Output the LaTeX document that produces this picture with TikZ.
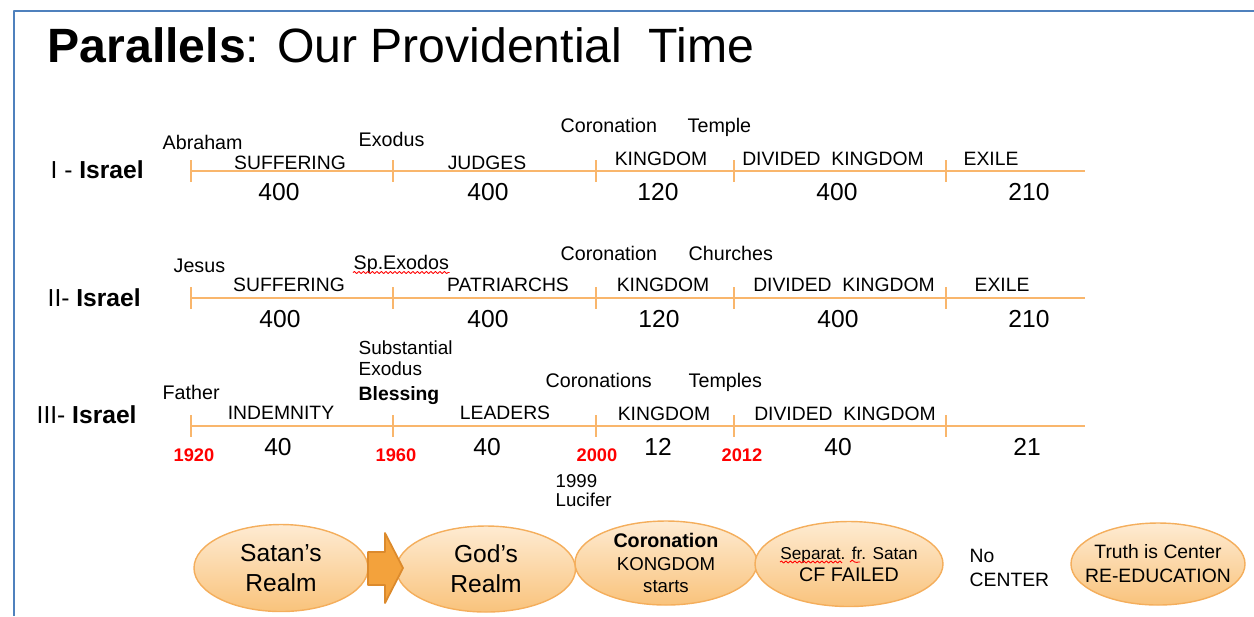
\documentclass[tikz,border=0pt]{standalone}
\usepackage{fontspec}
\setmainfont{Liberation Sans}
\usetikzlibrary{shapes.geometric,decorations.pathmorphing}
\definecolor{frameblue}{HTML}{4F81BD}
\definecolor{lineorange}{HTML}{F9B66C}
\definecolor{ovaltop}{HTML}{FEEBD2}
\definecolor{ovalbot}{HTML}{F9C37C}
\definecolor{ovaledge}{HTML}{F4AE5C}
\definecolor{arrowfill}{HTML}{F3A23C}
\definecolor{arrowedge}{HTML}{DC8A2C}
\newcommand\fs[2]{\fontsize{#1}{#2}\selectfont}
\begin{document}
\begin{tikzpicture}[x=0.1mm,y=-0.1mm,line join=round,
  lbl/.style={inner sep=0,anchor=base,font=\fs{5.5}{6.5}},
  tag/.style={inner sep=0,anchor=base west,font=\fs{5.6}{6.5}},
  num/.style={inner sep=0,anchor=base,font=\fs{7}{8}},
  yr/.style={inner sep=0,anchor=base,font=\bfseries\fs{5.2}{6},text=red},
  row/.style={inner sep=0,anchor=base west,font=\fs{7}{8}},
  oval/.style={ellipse,draw=ovaledge,line width=0.4pt,top color=ovaltop,bottom color=ovalbot,inner sep=-2.5mm,align=center},
  tl/.style={lineorange,line width=0.6pt},
  squig/.style={red,line width=0.25pt,decorate,decoration={snake,amplitude=0.1mm,segment length=0.45mm}}]
\useasboundingbox (0,0) rectangle (1254,616);
\draw[frameblue,line width=0.7pt] (14,616)--(14,11)--(1254,11);
\node[anchor=base west,inner sep=0,font=\fs{13.7}{16}] (title) at (47,62) {\textbf{Parallels}: Our Providential\ \ Time};

\foreach \y in {171,298,426}{
  \draw[tl] (191,\y)--(1085,\y);
  \foreach \x in {191,393,596,734,946} \draw[tl] (\x,\y-11)--(\x,\y+11);
}

\node[row] (isr1) at (50,178) {I - \textbf{Israel}};
\node[tag] (abraham) at (162,149) {Abraham};
\node[tag] (exodus1) at (358,146) {Exodus};
\node[tag] (coron1) at (560,132) {Coronation};
\node[tag] (temple) at (687,132) {Temple};
\node[lbl] (suff1) at (290,169) {SUFFERING};
\node[lbl] (judges) at (487,169) {JUDGES};
\node[lbl] (king1) at (661,165) {KINGDOM};
\node[lbl] (div1) at (833,165) {DIVIDED\ \ KINGDOM};
\node[lbl] (exile1) at (991,165) {EXILE};
\node[num] (n11) at (279,200) {400};
\node[num] (n12) at (488,200) {400};
\node[num] (n13) at (658,200) {120};
\node[num] (n14) at (837,200) {400};
\node[num] (n15) at (1029,200) {210};

\node[row] (isr2) at (47,306) {II- \textbf{Israel}};
\node[tag] (jesus) at (173,272) {Jesus};
\node[tag] (spex) at (353,269) {Sp.Exodos};
\node[tag] (coron2) at (560,260) {Coronation};
\node[tag] (churches) at (688,260) {Churches};
\node[lbl] (suff2) at (289,291) {SUFFERING};
\node[lbl] (patri) at (508,291) {PATRIARCHS};
\node[lbl] (king2) at (663,291) {KINGDOM};
\node[lbl] (div2) at (844,291) {DIVIDED\ \ KINGDOM};
\node[lbl] (exile2) at (1002,291) {EXILE};
\node[num] (n21) at (280,327) {400};
\node[num] (n22) at (488,327) {400};
\node[num] (n23) at (659,327) {120};
\node[num] (n24) at (838,327) {400};
\node[num] (n25) at (1029,327) {210};
\draw[squig] ([yshift=-0.35mm]spex.base west)--([yshift=-0.35mm]spex.base east);

\node[row] (isr3) at (36,423) {III- \textbf{Israel}};
\node[tag] (father) at (162,399) {Father};
\node[tag,font=\fs{5.4}{6.5}] (subst) at (358,354) {Substantial};
\node[tag,font=\fs{5.4}{6.5}] (exodus3) at (358,375) {Exodus};
\node[tag,font=\bfseries\fs{5.5}{6.5}] (bless) at (358,400) {Blessing};
\node[tag] (coron3) at (545,387) {Coronations};
\node[tag] (temples) at (688,387) {Temples};
\node[lbl] (indem) at (281,419) {INDEMNITY};
\node[lbl] (leaders) at (505,419) {LEADERS};
\node[lbl] (king3) at (664,420) {KINGDOM};
\node[lbl] (div3) at (845,420) {DIVIDED\ \ KINGDOM};
\node[num] (n31) at (278,455) {40};
\node[num] (n32) at (487,455) {40};
\node[num] (n33) at (658,455) {12};
\node[num] (n34) at (838,455) {40};
\node[num] (n35) at (1027,455) {21};
\node[yr] (y1920) at (194,461) {1920};
\node[yr] (y1960) at (396,461) {1960};
\node[yr] (y2000) at (597,461) {2000};
\node[yr] (y2012) at (742,461) {2012};
\node[tag,font=\fs{5.3}{6.5}] (y1999) at (555,487) {1999};
\node[tag,font=\fs{5.3}{6.5}] (lucifer) at (555,506) {Lucifer};

\node[oval,minimum width=17.4mm,minimum height=8.7mm,font=\fs{7}{8.5}] (satan) at (281,568) {Satan’s\\Realm};
\node[oval,minimum width=17.9mm,minimum height=8.6mm,font=\fs{7}{8.5}] (god) at (486,569) {God’s\\Realm};
\node[oval,minimum width=18.2mm,minimum height=8.4mm,font=\fs{5.3}{6.4}] (crown) at (666,563) {{\bfseries\fs{5.6}{6.4}Coronation}\\KONGDOM\\starts};
\node[oval,minimum width=18.8mm,minimum height=8.5mm,font=\fs{5.6}{6.3}] (separ) at (849,564) {{\fs{4.9}{6.3}Separat. fr. Satan}\\CF FAILED};
\node[tag,font=\fs{5.5}{6.8}] (nocen1) at (969,562) {No};
\node[tag,font=\fs{5.5}{6.8}] (nocen2) at (969,586) {CENTER};
\node[oval,minimum width=17.4mm,minimum height=8.2mm,font=\fs{5.5}{6.8}] (truth) at (1158,564) {Truth is Center\\RE-EDUCATION};
\draw[squig] (780,562)--(840,562) (850,562)--(860,562);

\draw[fill=arrowfill,draw=arrowedge,line width=0.5pt] (368,552)--(385,552)--(385,533)--(403,568)--(385,603)--(385,585)--(368,585)--cycle;
\end{tikzpicture}
\end{document}
